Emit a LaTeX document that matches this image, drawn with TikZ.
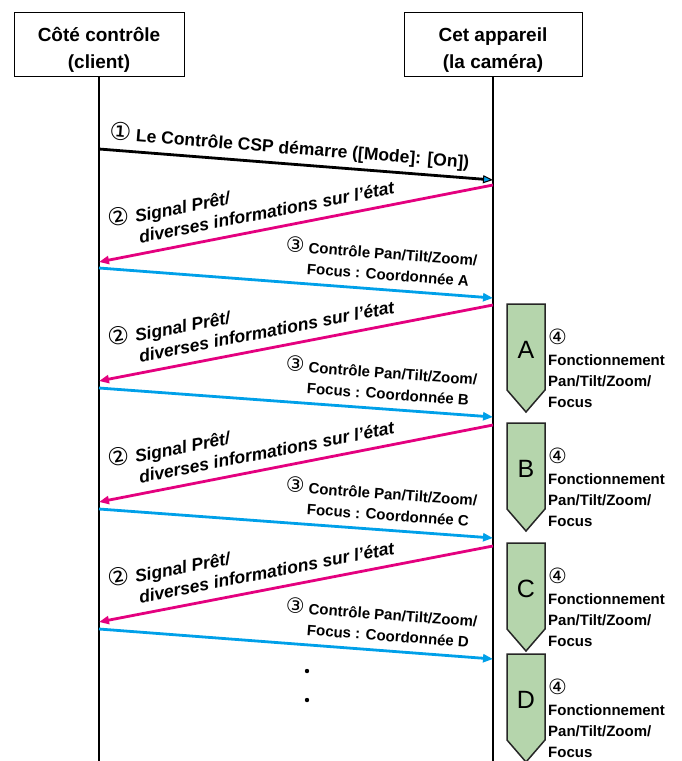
\documentclass[tikz,border=0pt]{standalone}
\usepackage{fontspec}
\setmainfont{Liberation Sans}[
  ItalicFont={Liberation Sans Italic},
  BoldFont={Liberation Sans Bold},
  BoldItalicFont={Liberation Sans Bold Italic}]
\newfontfamily\circfont[Scale=1.4]{DejaVu Sans}
\usetikzlibrary{arrows.meta}
\definecolor{readypink}{RGB}{228,0,127}
\definecolor{ctrlblue}{RGB}{0,160,233}
\definecolor{opgreen}{RGB}{181,213,172}
\newcommand\cnum[1]{{\circfont\mdseries\upshape #1}}
\tikzset{
  headbox/.style={
    draw,
    line width=0.8pt,
    align=center,
    minimum height=64pt,
    font=\bfseries\fontsize{19}{27}\selectfont
  },
  lifeline/.style={line width=1.5pt},
  startarrow/.style={line width=2.8pt, -{Triangle[length=10pt,width=8pt,fill=ctrlblue,line width=1pt]}},
  readyarrow/.style={line width=2.8pt, readypink, -{Triangle[length=10pt,width=8pt]}},
  ctrlarrow/.style={line width=2.8pt, ctrlblue, -{Triangle[length=10pt,width=8pt]}},
  msglabel/.style={text=black, inner sep=1pt, font=\bfseries\fontsize{17.5}{21}\selectfont},
  readylabel/.style={msglabel, font=\bfseries\itshape\fontsize{17.5}{21}\selectfont},
  ctrllabel/.style={msglabel, font=\bfseries\fontsize{15}{21}\selectfont},
  opbox/.style={draw=black!85, line width=1.5pt, fill=opgreen, line join=miter},
  oplabel/.style={anchor=north west, align=left, inner sep=0pt, font=\bfseries\fontsize{15}{21}\selectfont}
}

\begin{document}
\begin{tikzpicture}[x=1pt, y=-1pt]
  \useasboundingbox[fill=white] (0,0) rectangle (681,761);
  \clip (0,0) rectangle (681,761);

  % participants
  \node[headbox, minimum width=170pt] (client) at (99,44) {\rule{0pt}{26pt}Côté contrôle\\(client)};
  \node[headbox, minimum width=178pt] (camera) at (493,44) {\rule{0pt}{26pt}Cet appareil\\(la caméra)};
  \coordinate (clientbot) at (99,780);
  \coordinate (camerabot) at (493,780);
  \draw[lifeline] (client) -- (clientbot);
  \draw[lifeline] (camera) -- (camerabot);

  % start of CSP control
  \coordinate (start s) at (99,149);
  \coordinate (start e) at (493,180);
  \draw[startarrow] (start s) -- node[msglabel, pos=0.48, above=4pt, sloped]
    {\cnum{①}\ Le Contrôle CSP démarre ([Mode]: [On])} (start e);

  % ready signal / control command, four times
  \foreach \n/\ya/\yb/\yc/\yd/\lt in {1/185/262/268/298/A, 2/305/381/388/417/B,
                                      3/425/502/509/538/C, 4/546/622/629/659/D} {
    \coordinate (rdy\n s) at (493,\ya);
    \coordinate (rdy\n e) at (99,\yb);
    \coordinate (ctl\n s) at (99,\yc);
    \coordinate (ctl\n e) at (493,\yd);
    \draw[readyarrow] (rdy\n s) -- node[readylabel, pos=0.6, above=2pt, sloped]
      {\begin{tabular}{@{}c@{\ }l@{}}\cnum{②} & \itshape Signal Prêt/\\
        & \itshape diverses informations sur l’état\end{tabular}} (rdy\n e);
    \draw[ctrlarrow] (ctl\n s) -- node[ctrllabel, pos=0.71, above=1pt, sloped]
      {\begin{tabular}{@{}c@{\ }l@{}}\cnum{③} & Contrôle Pan/Tilt/Zoom/\\
        & Focus : Coordonnée \lt\end{tabular}} (ctl\n e);
  }

  % camera operation
  \foreach \t/\lt in {304/A, 423/B, 543/C, 654/D} {
    \draw[opbox] (507,\t) -- (545,\t) -- (545,\t+86) -- (526,\t+108)
      -- (507,\t+86) -- cycle;
    \node[font=\fontsize{25}{25}\selectfont] (op\lt) at (526,\t+46) {\lt};
    \node[oplabel] (opl\lt) at (548,\t+25)
      {\cnum{④}\\Fonctionnement\\Pan/Tilt/Zoom/\\Focus};
  }

  % continuation dots
  \fill (307,671) circle (2.2);
  \fill (307,700) circle (2.2);
\end{tikzpicture}
\end{document}
